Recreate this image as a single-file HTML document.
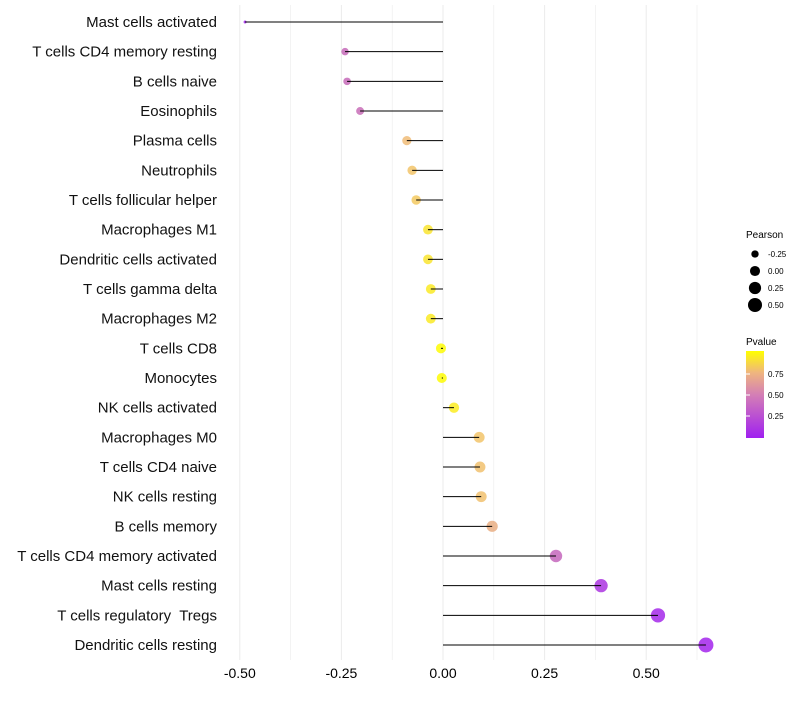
<!DOCTYPE html>
<html><head><meta charset="utf-8"><style>
body{margin:0;background:#fff;font-family:"Liberation Sans",sans-serif;}
</style></head><body>
<svg id="chart" width="800" height="700" xmlns="http://www.w3.org/2000/svg">
<defs><linearGradient id="pg" x1="0" y1="1" x2="0" y2="0">
<stop offset="0" stop-color="#A020F0"/><stop offset="0.5" stop-color="#D47FB5"/><stop offset="0.75" stop-color="#EFB57F"/><stop offset="1" stop-color="#FFFF00"/>
</linearGradient></defs>
<g id="grid"></g><g id="dots"></g><g id="marks"></g><g id="labels"></g>
<g font-size="9" fill="#000">
<text x="746" y="238" font-size="10">Pearson</text>
<g id="sizeLeg"></g>
<text x="746" y="345" font-size="10">Pvalue</text>
<rect x="746" y="351" width="18" height="87" fill="url(#pg)"/>
<g id="colLeg"></g>
</g>
</svg>
<script>
const cells=["Mast cells activated","T cells CD4 memory resting","B cells naive","Eosinophils","Plasma cells","Neutrophils","T cells follicular helper","Macrophages M1","Dendritic cells activated","T cells gamma delta","Macrophages M2","T cells CD8","Monocytes","NK cells activated","Macrophages M0","T cells CD4 naive","NK cells resting","B cells memory","T cells CD4 memory activated","Mast cells resting","T cells regulatory  Tregs","Dendritic cells resting"];
const pearson=[-0.487,-0.241,-0.236,-0.204,-0.089,-0.076,-0.066,-0.037,-0.037,-0.030,-0.030,-0.005,-0.003,0.027,0.089,0.091,0.094,0.121,0.278,0.389,0.529,0.647];
const pvalue=[0.02,0.42,0.42,0.44,0.75,0.78,0.80,0.90,0.90,0.92,0.92,0.99,0.99,0.93,0.78,0.77,0.77,0.70,0.40,0.12,0.05,0.03];
const xTicks=[-0.5,-0.25,0,0.25,0.5];
const xTickLabels=["-0.50","-0.25","0.00","0.25","0.50"];
const sizeLegVals=[-0.25,0,0.25,0.5];
const colLegVals=[0.75,0.5,0.25];
const NS="http://www.w3.org/2000/svg";
const x=v=>443+v*406.4;
const y=i=>22+i*(623/21);
const pmin=Math.min(...pearson),pmax=Math.max(...pearson);
const r=v=>{const t=Math.max(0,(v-pmin)/(pmax-pmin));return Math.sqrt(2.25+54*t);};
const stops=[[0,[160,32,240]],[0.5,[205,120,175]],[0.75,[240,188,120]],[1,[255,255,0]]];
function col(p){for(let k=1;k<stops.length;k++){if(p<=stops[k][0]){const a=stops[k-1],b=stops[k],t=(p-a[0])/(b[0]-a[0]);return "rgb("+a[1].map((c,j)=>Math.round(c+(b[1][j]-c)*t)).join(",")+")";}}return "rgb(255,255,0)";}
function mk(tag,at,parent){const e=document.createElementNS(NS,tag);for(const k in at)e.setAttribute(k,at[k]);parent.appendChild(e);return e;}
const grid=document.getElementById('grid'),marks=document.getElementById('marks'),dots=document.getElementById('dots'),labels=document.getElementById('labels');
for(let v=-0.5;v<=0.625;v+=0.125){const g=mk('line',{x1:x(v),x2:x(v),y1:5,y2:660,stroke:'#ebebeb','stroke-width':Math.abs(v*4-Math.round(v*4))<1e-6?1:0.6},grid);

}
xTicks.forEach((v,i)=>{const t=mk('text',{x:x(v),y:678,'text-anchor':'middle','font-size':14,fill:'#000'},labels);t.textContent=xTickLabels[i];

});
cells.forEach((c,i)=>{
const d=mk('circle',{cx:x(pearson[i]),cy:y(i),r:r(pearson[i]),fill:col(pvalue[i]),'fill-opacity':0.85},dots);


const l=mk('line',{x1:x(0),x2:x(pearson[i]),y1:y(i),y2:y(i),stroke:'#000','stroke-width':1},marks);


const t=mk('text',{x:217,y:y(i)+5,'text-anchor':'end','font-size':15,fill:'#111','xml:space':'preserve',style:'white-space:pre'},labels);t.textContent=c;

});
const sl=document.getElementById('sizeLeg');
sizeLegVals.forEach((v,i)=>{const cy=254+i*17;
const d=mk('circle',{cx:755,cy:cy,r:r(v),fill:'#000'},sl);


const t=mk('text',{x:768,y:cy+3,'font-size':8},sl);t.textContent=v.toFixed(2);

});
const cl=document.getElementById('colLeg');
colLegVals.forEach(p=>{const cy=437-p*84;
const k=mk('line',{x1:746,x2:750,y1:cy,y2:cy,stroke:'#fff'},cl);


const t=mk('text',{x:768,y:cy+3,'font-size':8},cl);t.textContent=p.toFixed(2);

});
</script>
</body></html>
